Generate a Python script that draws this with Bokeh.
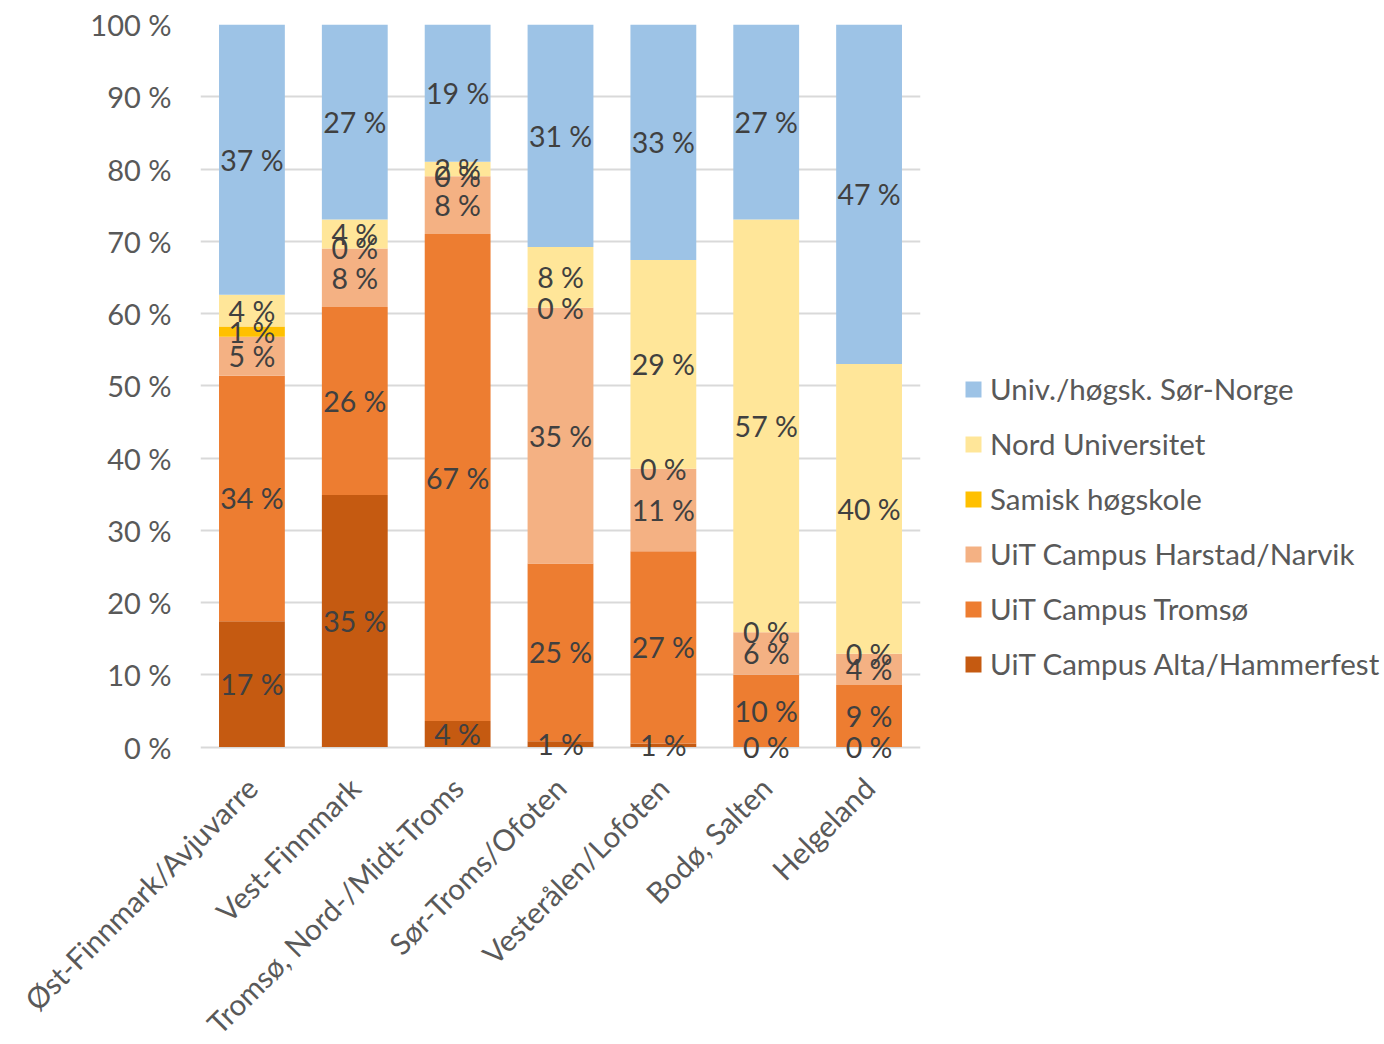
import math
from bokeh.plotting import figure
from bokeh.models import (Range1d, FactorRange, FixedTicker, Legend, LegendItem,
                          ColumnDataSource, LabelSet)
from bokeh.core.properties import value
from bokeh.embed import file_html
from bokeh.resources import INLINE

regions = ["Øst-Finnmark/Avjuvarre", "Vest-Finnmark", "Tromsø, Nord-/Midt-Troms",
           "Sør-Troms/Ofoten", "Vesterålen/Lofoten", "Bodø, Salten", "Helgeland"]

# stacked from bottom to top
series = ["UiT Campus Alta/Hammerfest", "UiT Campus Tromsø", "UiT Campus Harstad/Narvik",
          "Samisk høgskole", "Nord Universitet", "Univ./høgsk. Sør-Norge"]
alta    = [17.4, 34.9, 3.6, 0.8, 0.5, 0.0, 0.0]
tromso  = [34.0, 26.0, 67.4, 24.6, 26.6, 10.0, 8.6]
harstad = [5.4, 8.1, 8.0, 35.4, 11.4, 5.9, 4.3]
samisk  = [1.4, 0.0, 0.0, 0.0, 0.0, 0.0, 0.0]
nord    = [4.4, 4.0, 2.0, 8.4, 28.9, 57.1, 40.1]
sor     = [37.4, 27.0, 19.0, 30.8, 32.6, 27.0, 47.0]
colors = ["#C55A11", "#ED7D31", "#F4B183", "#FFC000", "#FFE699", "#9DC3E6"]

y_ticks = [0, 10, 20, 30, 40, 50, 60, 70, 80, 90, 100]
y_tick_labels = ["0 %", "10 %", "20 %", "30 %", "40 %", "50 %", "60 %", "70 %", "80 %", "90 %", "100 %"]

FONT = "Lato"

# y range starts a little below 0 so that labels at the baseline are not cut;
# the 0 % grid line serves as the baseline
p = figure(frame_width=720, frame_height=737, x_range=FactorRange(*regions),
           y_range=Range1d(-2, 100),
           output_backend="svg", toolbar_location=None,
           min_border_left=200, min_border_right=0, min_border_top=24, min_border_bottom=0)
p.outline_line_color = None
p.background_fill_color = "white"

p.xgrid.grid_line_color = None
p.ygrid.grid_line_color = "#d9d9d9"
p.ygrid.grid_line_width = 2
p.yaxis.ticker = FixedTicker(ticks=y_ticks)
p.yaxis.major_label_overrides = {t: l for t, l in zip(y_ticks, y_tick_labels)}
p.yaxis.axis_line_color = None
p.yaxis.major_tick_line_color = None
p.yaxis.minor_tick_line_color = None
p.yaxis.major_label_standoff = 23
p.yaxis.major_label_text_font = FONT
p.yaxis.major_label_text_font_size = "29px"
p.yaxis.major_label_text_color = "#595959"

p.xaxis.axis_line_color = None
p.xaxis.major_tick_line_color = None
p.xaxis.minor_tick_line_color = None
p.xaxis.major_label_orientation = math.pi / 4
p.xaxis.major_label_standoff = 15
p.xaxis.major_label_text_font = FONT
p.xaxis.major_label_text_font_size = "29.5px"
p.xaxis.major_label_text_color = "#595959"

data = [alta, tromso, harstad, samisk, nord, sor]
bottom = [0.0] * len(regions)
renderers = []
for name, vals, col in zip(series, data, colors):
    top = [b + v for b, v in zip(bottom, vals)]
    mid = [(b + t) / 2 for b, t in zip(bottom, top)]
    labels = [f"{int(v + 0.5)} %" for v in vals]
    src = ColumnDataSource(dict(x=regions, bottom=bottom, top=top, mid=mid, label=labels))
    r = p.vbar(x="x", bottom="bottom", top="top", width=0.64, source=src,
               fill_color=col, line_color=None)
    renderers.append((name, r))
    ls = LabelSet(x="x", y="mid", text="label", source=src, text_align="center",
                  text_baseline="middle", text_font=value(FONT), text_font_size="28.5px",
                  text_color="#404040")
    p.add_layout(ls)
    bottom = top

items = [LegendItem(label=name, renderers=[r]) for name, r in reversed(renderers)]
legend = Legend(items=items, location=(43, 80), orientation="vertical",
                glyph_width=20, glyph_height=20, label_standoff=7, spacing=20,
                padding=0, margin=0, border_line_color=None, background_fill_alpha=0,
                label_text_font=FONT, label_text_font_size="29.5px", label_text_color="#595959")
p.add_layout(legend, "right")

open("out.html", "w").write(file_html(p, INLINE))
